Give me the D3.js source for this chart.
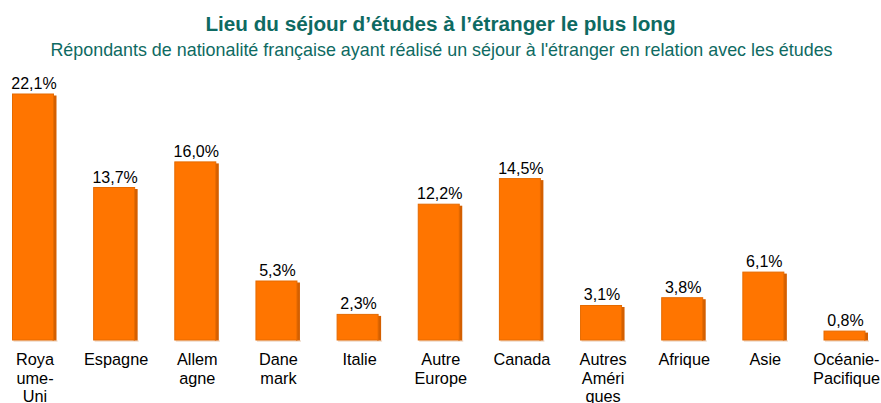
<!DOCTYPE html>
<html>
<head>
<meta charset="utf-8">
<script src="https://cdn.jsdelivr.net/npm/d3@7"></script>
<style>
  html, body { margin: 0; padding: 0; background: #ffffff; }
  svg { display: block; font-family: "Liberation Sans", Arial, sans-serif; }
</style>
</head>
<body>
<svg id="chart" width="881" height="403"></svg>
<script>
// Lieu du séjour d'études le plus long (% des répondants)
const categories = [
  ["Roya", "ume-", "Uni"],
  ["Espagne"],
  ["Allem", "agne"],
  ["Dane", "mark"],
  ["Italie"],
  ["Autre", "Europe"],
  ["Canada"],
  ["Autres", "Améri", "ques"],
  ["Afrique"],
  ["Asie"],
  ["Océanie-", "Pacifique"]
];
const values = [22.1, 13.7, 16.0, 5.3, 2.3, 12.2, 14.5, 3.1, 3.8, 6.1, 0.8];
const valueLabels = ["22,1%", "13,7%", "16,0%", "5,3%", "2,3%", "12,2%", "14,5%", "3,1%", "3,8%", "6,1%", "0,8%"];

const title = "Lieu du séjour d’études à l’étranger le plus long";
const subtitle = "Répondants de nationalité française ayant réalisé un séjour à l'étranger en relation avec les études";

const svg = d3.select("#chart");
const W = 881;

const x = d3.scalePoint()
  .domain(d3.range(values.length))
  .range([33, 844.5]);
const barW = 41;
const depth = 4;

const y = d3.scaleLinear()
  .domain([0, 22.1])
  .range([340, 94]);

// Titles
svg.append("text")
  .attr("x", W / 2).attr("y", 31)
  .attr("text-anchor", "middle")
  .attr("font-size", 20.7).attr("font-weight", "bold")
  .attr("fill", "#0e6a62")
  .text(title);

svg.append("text")
  .attr("x", W / 2 + 1).attr("y", 56)
  .attr("text-anchor", "middle")
  .attr("font-size", 17.9)
  .attr("fill", "#0e6a62")
  .text(subtitle);

const g = svg.append("g");

const bars = g.selectAll("g.bar")
  .data(values)
  .join("g")
  .attr("class", "bar");

// faint ground shadow
bars.append("rect")
  .attr("x", (d, i) => x(i) - barW / 2 + 1)
  .attr("y", y(0))
  .attr("width", barW + depth - 1)
  .attr("height", 2)
  .attr("fill", "#f3e3d6");

// right side face
bars.append("rect")
  .attr("x", (d, i) => x(i) + barW / 2 - 1)
  .attr("y", d => y(d) + 1.5)
  .attr("width", depth)
  .attr("height", d => y(0) - y(d) - 1)
  .attr("fill", "#d45f00");

// front face
bars.append("rect")
  .attr("x", (d, i) => x(i) - barW / 2)
  .attr("y", d => y(d))
  .attr("width", barW)
  .attr("height", d => y(0) - y(d))
  .attr("fill", "#ff7500")
  .attr("stroke", "#e56a00")
  .attr("stroke-width", 1);

// value labels
bars.append("text")
  .attr("x", (d, i) => x(i) + 1)
  .attr("y", d => y(d) - 5)
  .attr("text-anchor", "middle")
  .attr("font-size", 16)
  .attr("fill", "#000")
  .text((d, i) => valueLabels[i]);

// category labels
const cat = g.selectAll("text.cat")
  .data(categories)
  .join("text")
  .attr("class", "cat")
  .attr("text-anchor", "middle")
  .attr("font-size", 16.3)
  .attr("fill", "#000")
  .attr("transform", (d, i) => `translate(${x(i) + 2},365)`);

cat.selectAll("tspan")
  .data(d => d)
  .join("tspan")
  .attr("x", 0)
  .attr("y", (d, j) => j * 18.5)
  .text(d => d);
</script>
</body>
</html>
